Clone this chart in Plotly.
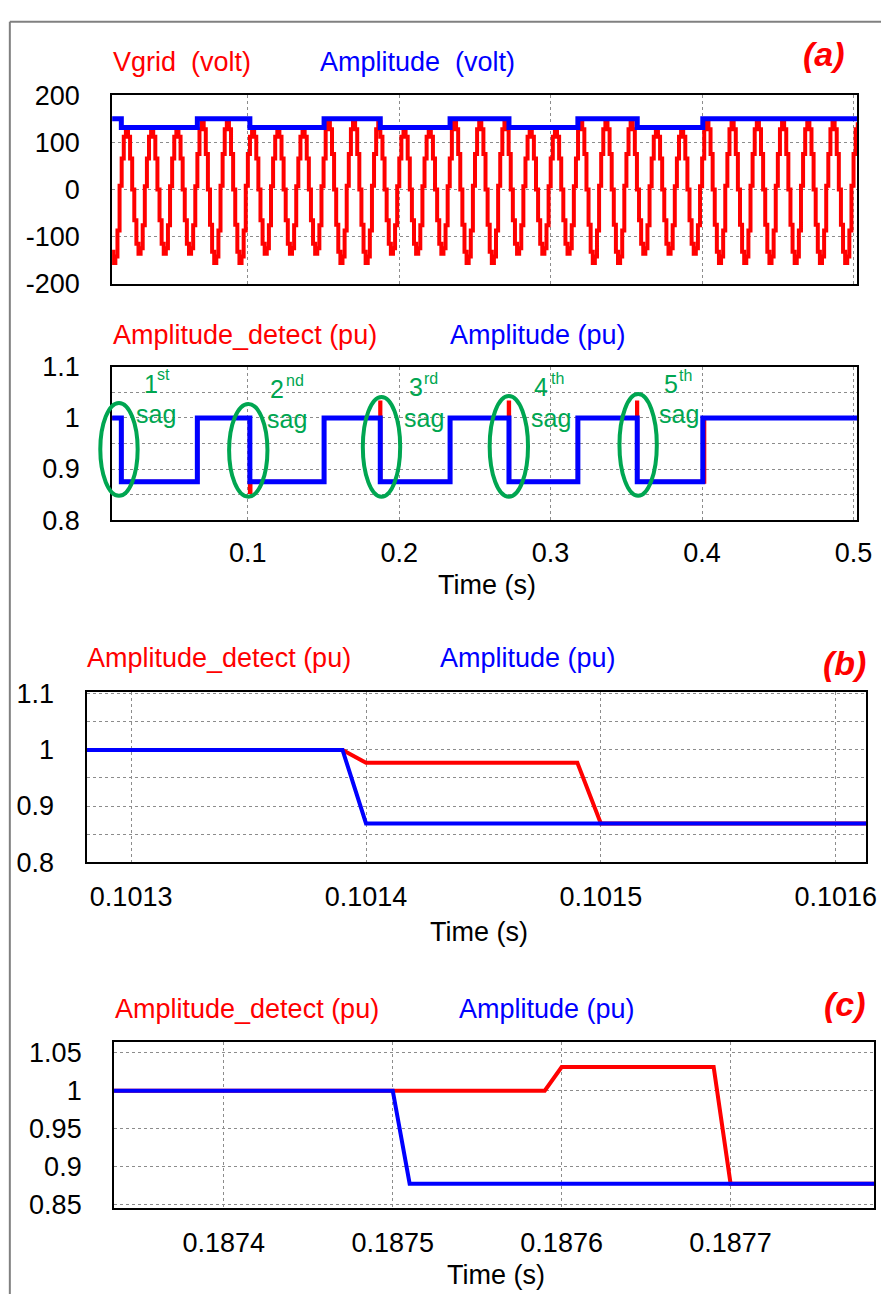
import numpy as np
import plotly.graph_objects as go

W, H = 896, 1309
FONT = "Arial, Liberation Sans, sans-serif"
RED = "#FF0000"
BLUE = "#0000FF"
GREEN = "#00A651"
GRID = "#8C8C8C"

# ---------------- data ----------------
# amplitude step changes (s) and levels
amp_switch_t = [0.0104, 0.0165, 0.0667, 0.10139, 0.1504, 0.1875, 0.2336, 0.2725, 0.3180, 0.3572, 0.4005, 0.5026]
amp_level_pu = [1.0, 0.875, 1.0, 0.875, 1.0, 0.875, 1.0, 0.875, 1.0, 0.875, 1.0, 1.0]
amp_nominal_volt = 150.0

# one grid cycle of the stepped Vgrid waveform (12 held samples per 60 Hz cycle, pu of amplitude)
vgrid_cycle_shape = [0.05, 0.50, 0.85, 0.95, 0.85, 0.50, 0.0, -0.50, -0.88, -1.04, -0.95, -0.58]
grid_freq = 60.0
vgrid_phase_t = -0.00133  # time of sample 0 of a cycle

# detected amplitude in panel (a) lower plot (pu)
detect_t = [0.0104, 0.0165, 0.0667, 0.10139, 0.1018, 0.1504, 0.18745, 0.1876, 0.2336, 0.27235, 0.2726,
            0.3180, 0.35705, 0.3572, 0.4015, 0.5026]
detect_pu = [1.0, 0.875, 1.0, 0.855, 0.875, 1.0, 1.03, 0.875, 1.0, 1.03, 0.875,
             1.0, 1.03, 0.875, 1.0, 1.0]

# panel (b): zoom on 2nd sag
b_t = [0.101281, 0.10139, 0.1014, 0.10149, 0.1015, 0.101613]
b_amp = [1.0, 1.0, 0.869, 0.869, 0.869, 0.869]
b_detect = [1.0, 1.0, 0.977, 0.977, 0.869, 0.869]

# panel (c): zoom on 3rd sag
c_t = [0.187335, 0.1875, 0.18751, 0.18759, 0.1876, 0.18769, 0.1877, 0.187785]
c_amp = [1.0, 1.0, 0.878, 0.878, 0.878, 0.878, 0.878, 0.878]
c_detect = [1.0, 1.0, 1.0, 1.0, 1.031, 1.031, 0.878, 0.878]

# tick labels
a_top_yticks = [-200, -100, 0, 100, 200]
a_xticks = [0.1, 0.2, 0.3, 0.4, 0.5]
a_xticklabels = ["0.1", "0.2", "0.3", "0.4", "0.5"]
pu_yticks = [0.8, 0.9, 1.0, 1.1]
pu_yticklabels = ["0.8", "0.9", "1", "1.1"]
pu_minor_grid = [0.85, 0.95, 1.05]
b_xticks = [0.1013, 0.1014, 0.1015, 0.1016]
b_xticklabels = ["0.1013", "0.1014", "0.1015", "0.1016"]
c_yticks = [0.85, 0.9, 0.95, 1.0, 1.05]
c_yticklabels = ["0.85", "0.9", "0.95", "1", "1.05"]
c_xticks = [0.1874, 0.1875, 0.1876, 0.1877]
c_xticklabels = ["0.1874", "0.1875", "0.1876", "0.1877"]

sag_numbers = ["1", "2", "3", "4", "5"]
sag_suffixes = ["st", "nd", "rd", "th", "th"]

# ---------------- build Vgrid staircase from the cycle template ----------------
amp_volt = [v * amp_nominal_volt for v in amp_level_pu]
x0, x1 = amp_switch_t[0], amp_switch_t[-1]
ns = len(vgrid_cycle_shape)
dt = 1.0 / (grid_freq * ns)
k0 = int(np.floor((x0 - vgrid_phase_t) / dt))
k1 = int(np.ceil((x1 - vgrid_phase_t) / dt)) + 1
vg_t, vg_v = [], []
for k in range(k0, k1):
    t = vgrid_phase_t + k * dt
    idx = max(0, np.searchsorted(amp_switch_t, max(t, x0), side="right") - 1)
    env = amp_volt[min(idx, len(amp_volt) - 1)]
    vg_t.append(t)
    vg_v.append(env * vgrid_cycle_shape[k % ns])

# ---------------- figure ----------------
def PX(px):
    return px / W

def PY(py):
    return 1 - py / H

fig = go.Figure()

fig.add_trace(go.Scatter(x=vg_t, y=vg_v, mode="lines", line=dict(color=RED, width=4, shape="hv"),
                         xaxis="x", yaxis="y", showlegend=False))
fig.add_trace(go.Scatter(x=amp_switch_t, y=amp_volt, mode="lines", line=dict(color=BLUE, width=5, shape="hv"),
                         xaxis="x", yaxis="y", showlegend=False))

fig.add_trace(go.Scatter(x=detect_t, y=detect_pu, mode="lines", line=dict(color=RED, width=4, shape="hv"),
                         xaxis="x2", yaxis="y2", showlegend=False))
fig.add_trace(go.Scatter(x=amp_switch_t, y=amp_level_pu, mode="lines", line=dict(color=BLUE, width=5, shape="hv"),
                         xaxis="x2", yaxis="y2", showlegend=False))

fig.add_trace(go.Scatter(x=b_t, y=b_detect, mode="lines", line=dict(color=RED, width=4),
                         xaxis="x3", yaxis="y3", showlegend=False))
fig.add_trace(go.Scatter(x=b_t, y=b_amp, mode="lines", line=dict(color=BLUE, width=4),
                         xaxis="x3", yaxis="y3", showlegend=False))

fig.add_trace(go.Scatter(x=c_t, y=c_detect, mode="lines", line=dict(color=RED, width=4),
                         xaxis="x4", yaxis="y4", showlegend=False))
fig.add_trace(go.Scatter(x=c_t, y=c_amp, mode="lines", line=dict(color=BLUE, width=4),
                         xaxis="x4", yaxis="y4", showlegend=False))

tickfont = dict(family=FONT, size=27, color="black")
common_axis = dict(showline=True, mirror=True, linecolor="black", linewidth=2,
                   showgrid=True, gridcolor=GRID, griddash="dot", gridwidth=1,
                   zeroline=False, ticks="", tickfont=tickfont, fixedrange=True)

def xax(dom, rng, tv, tt, show, anchor, standoff):
    d = dict(common_axis)
    d.update(domain=[PX(dom[0]), PX(dom[1])], range=rng, tickvals=tv, ticktext=tt,
             showticklabels=show, anchor=anchor, ticklabelstandoff=standoff)
    return d

def yax(dom, rng, tv, tt, anchor, minor=None):
    d = dict(common_axis)
    d.update(domain=[PY(dom[1]), PY(dom[0])], range=rng, tickvals=tv, ticktext=tt,
             anchor=anchor, ticklabelstandoff=25)
    if minor is not None:
        d["minor"] = dict(tickvals=minor, showgrid=True, gridcolor=GRID, griddash="dot",
                          gridwidth=1, ticks="")
    return d

xr_a = [0.0104, 0.5026]
fig.update_layout(
    width=W, height=H, margin=dict(l=0, r=0, t=0, b=0),
    paper_bgcolor="white", plot_bgcolor="white",
    xaxis=xax((114, 872), xr_a, a_xticks, a_xticklabels, False, "y", 8),
    yaxis=yax((82, 275), [-200, 200], a_top_yticks, [str(v) for v in a_top_yticks], "x"),
    xaxis2=xax((114, 872), xr_a, a_xticks, a_xticklabels, True, "y2", 7),
    yaxis2=yax((360, 517), [0.8, 1.1], pu_yticks, pu_yticklabels, "x2", pu_minor_grid),
    xaxis3=xax((88, 881), [0.101281, 0.101613], b_xticks, b_xticklabels, True, "y3", 9),
    yaxis3=yax((693, 867), [0.8, 1.103], pu_yticks, pu_yticklabels, "x3", pu_minor_grid),
    xaxis4=xax((116, 889), [0.187335, 0.187785], c_xticks, c_xticklabels, True, "y4", 10),
    yaxis4=yax((1051, 1221), [0.846, 1.064], c_yticks, c_yticklabels, "x4"),
)

ann = []

def text(x, y, s, color, size=27, xanchor="left", bold=False, italic=False):
    f = dict(family=FONT, size=size, color=color)
    if bold:
        f["weight"] = "bold"
    if italic:
        f["style"] = "italic"
    ann.append(dict(x=PX(x), y=PY(y), xref="paper", yref="paper", text=s, showarrow=False,
                    xanchor=xanchor, yanchor="middle", font=f))

# panel (a) top
text(113, 48, "Vgrid\u00a0\u00a0(volt)", RED)
text(323, 48, "Amplitude\u00a0\u00a0(volt)", BLUE)
text(838, 40, "(a)", RED, size=34, xanchor="center", bold=True, italic=True)
# panel (a) lower
text(113, 327, "Amplitude_detect (pu)", RED)
text(456, 327, "Amplitude (pu)", BLUE)
text(495, 583, "Time (s)", "black", xanchor="center")
# panel (b)
text(86, 658, "Amplitude_detect (pu)", RED)
text(445, 658, "Amplitude (pu)", BLUE)
text(859, 663, "(b)", RED, size=34, xanchor="center", bold=True, italic=True)
text(487, 938, "Time (s)", "black", xanchor="center")
# panel (c)
text(115, 1017, "Amplitude_detect (pu)", RED)
text(465, 1017, "Amplitude (pu)", BLUE)
text(859, 1012, "(c)", RED, size=34, xanchor="center", bold=True, italic=True)
text(504, 1290, "Time (s)", "black", xanchor="center")

# sag labels and ellipses
sag_num_pos = [(144, 378), (273, 383), (414, 381), (541, 381), (673, 378)]
sag_suf_pos = [(158, 368), (289, 374), (429, 372), (558, 372), (689, 369)]
sag_word_pos = [(136, 408), (270, 413), (409, 412), (538, 412), (668, 408)]
sag_ellipse_px = [(102, 397, 140, 492), (233, 398, 272, 493), (369, 391, 407, 493),
                  (498, 390, 537, 493), (630, 388, 668, 492)]
for num, suf, (nx, ny), (ux, uy), (sx, sy) in zip(sag_numbers, sag_suffixes, sag_num_pos,
                                                   sag_suf_pos, sag_word_pos):
    text(nx, ny, num, GREEN, size=25)
    text(ux, uy, suf, GREEN, size=16)
    text(sx, sy, "sag", GREEN, size=25)

shapes = []
for (ex0, ey0, ex1, ey1) in sag_ellipse_px:
    shapes.append(dict(type="circle", xref="paper", yref="paper", x0=PX(ex0), x1=PX(ex1),
                       y0=PY(ey1), y1=PY(ey0), line=dict(color=GREEN, width=4)))

# outer gray frame (left and top edges)
shapes.append(dict(type="line", xref="paper", yref="paper", x0=PX(10), x1=PX(10), y0=PY(7), y1=0,
                   line=dict(color="#808080", width=2)))
shapes.append(dict(type="line", xref="paper", yref="paper", x0=PX(10), x1=1, y0=PY(7), y1=PY(7),
                   line=dict(color="#808080", width=2)))

fig.update_layout(annotations=ann, shapes=shapes)
fig.write_html("out.html")
